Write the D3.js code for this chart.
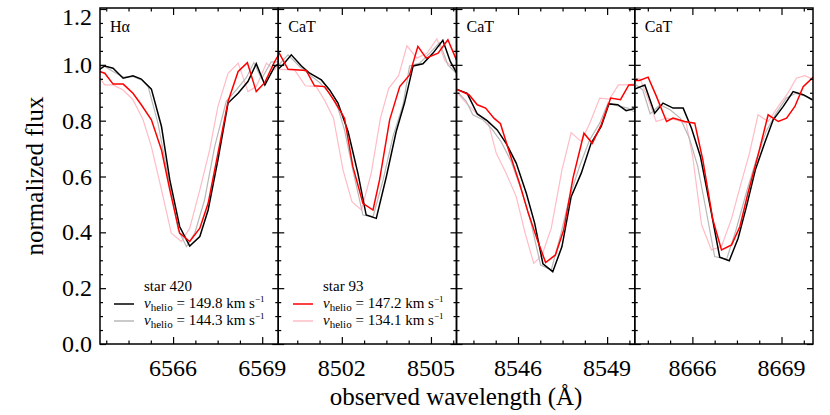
<!DOCTYPE html>
<html>
<head>
<meta charset="utf-8">
<script src="https://cdnjs.cloudflare.com/ajax/libs/d3/7.8.5/d3.min.js"></script>
<style>
body { margin: 0; background: #fff; }
svg, svg text { font-family: "Liberation Serif", "DejaVu Serif", serif; }
</style>
</head>
<body>
<svg id="chart" width="830" height="415"></svg>
<script>
// panel setup
var panelLabels = ["H\u03b1", "CaT", "CaT", "CaT"];
var xDomains = [[6563.54, 6569.54], [8499.86, 8505.86], [8543.93, 8549.93], [8664.06, 8670.06]];
var xMajorTicks = [[6566, 6569], [8502, 8505], [8546, 8549], [8666, 8669]];
var yTicks = [0, 0.2, 0.4, 0.6, 0.8, 1.0, 1.2];

// star 420, v = 149.8 (black) and 144.3 (gray); star 93, v = 147.2 (red) and 134.1 (pink)
var ha420a = [[6563.53,0.984],[6563.70,0.996],[6563.98,0.988],[6564.32,0.952],[6564.65,0.961],[6564.93,0.949],[6565.27,0.913],[6565.61,0.779],[6565.89,0.588],[6566.22,0.421],[6566.56,0.351],[6566.90,0.385],[6567.18,0.480],[6567.51,0.660],[6567.85,0.863],[6568.19,0.898],[6568.52,0.940],[6568.80,1.004],[6569.09,0.928],[6569.42,0.994],[6569.59,1.006]];
var ha420b = [[6563.53,0.996],[6563.70,0.994],[6563.98,0.976],[6564.32,0.956],[6564.65,0.958],[6564.93,0.946],[6565.16,0.922],[6565.49,0.791],[6565.83,0.600],[6566.17,0.409],[6566.45,0.349],[6566.73,0.397],[6567.06,0.516],[6567.40,0.707],[6567.79,0.869],[6568.13,0.910],[6568.47,0.955],[6568.72,1.008],[6568.98,0.950],[6569.30,1.010],[6569.59,1.012]];
var ha93a = [[6563.53,0.976],[6563.70,0.970],[6563.98,0.931],[6564.32,0.931],[6564.65,0.898],[6564.93,0.857],[6565.27,0.803],[6565.61,0.695],[6565.89,0.552],[6566.22,0.397],[6566.56,0.367],[6566.90,0.415],[6567.18,0.504],[6567.51,0.683],[6567.85,0.869],[6568.19,0.976],[6568.50,1.008],[6568.80,0.904],[6569.09,0.937],[6569.42,1.012],[6569.59,1.042]];
var ha93b = [[6563.53,0.952],[6563.70,0.928],[6563.98,0.928],[6564.32,0.910],[6564.65,0.875],[6564.99,0.803],[6565.27,0.707],[6565.61,0.552],[6565.94,0.397],[6566.28,0.367],[6566.56,0.415],[6566.90,0.552],[6567.23,0.695],[6567.51,0.851],[6567.85,0.970],[6568.19,1.006],[6568.52,0.904],[6568.80,0.922],[6569.14,1.006],[6569.42,0.982],[6569.59,1.012]];

var ca1420a = [[8499.86,0.985],[8500.02,1.000],[8500.30,1.036],[8500.64,0.996],[8500.92,0.970],[8501.31,0.946],[8501.59,0.910],[8501.87,0.863],[8502.21,0.761],[8502.54,0.612],[8502.82,0.462],[8503.16,0.450],[8503.50,0.600],[8503.83,0.761],[8504.11,0.863],[8504.40,0.996],[8504.73,1.004],[8505.07,1.042],[8505.40,1.088],[8505.65,1.012],[8505.90,0.964]];
var ca1420b = [[8499.86,0.998],[8500.19,1.036],[8500.58,0.994],[8500.92,0.964],[8501.25,0.937],[8501.59,0.898],[8501.87,0.845],[8502.09,0.767],[8502.37,0.624],[8502.71,0.462],[8503.05,0.456],[8503.39,0.588],[8503.72,0.743],[8504.06,0.857],[8504.28,0.996],[8504.62,1.006],[8504.96,1.042],[8505.29,1.080],[8505.57,1.000],[8505.91,0.964]];
var ca193a = [[8499.86,1.048],[8500.19,0.984],[8500.80,0.980],[8501.08,0.925],[8501.42,0.922],[8501.76,0.869],[8502.09,0.809],[8502.37,0.636],[8502.71,0.504],[8503.05,0.480],[8503.27,0.588],[8503.61,0.803],[8503.95,0.922],[8504.28,0.964],[8504.56,1.066],[8504.84,1.024],[8505.24,1.042],[8505.57,1.090],[8505.88,1.012]];
var ca193b = [[8499.86,0.984],[8500.41,0.982],[8500.77,0.925],[8501.14,0.922],[8501.44,0.869],[8501.72,0.809],[8502.04,0.624],[8502.34,0.510],[8502.66,0.480],[8502.99,0.612],[8503.30,0.809],[8503.58,0.916],[8503.91,0.961],[8504.19,1.068],[8504.53,1.024],[8504.87,1.042],[8505.20,1.093],[8505.48,1.012],[8505.86,0.985]];

var ca2420a = [[8543.92,0.913],[8544.29,0.898],[8544.63,0.824],[8544.96,0.800],[8545.30,0.767],[8545.60,0.719],[8545.94,0.648],[8546.28,0.540],[8546.56,0.433],[8546.84,0.287],[8547.17,0.259],[8547.48,0.349],[8547.79,0.528],[8548.13,0.612],[8548.46,0.719],[8548.80,0.779],[8549.06,0.860],[8549.36,0.857],[8549.64,0.836],[8549.98,0.845]];
var ca2420b = [[8543.92,0.908],[8544.26,0.869],[8544.48,0.821],[8544.82,0.803],[8545.10,0.773],[8545.43,0.725],[8545.77,0.654],[8546.11,0.552],[8546.44,0.433],[8546.76,0.283],[8547.12,0.265],[8547.45,0.397],[8547.74,0.528],[8548.07,0.636],[8548.41,0.731],[8548.75,0.791],[8549.03,0.863],[8549.36,0.853],[8549.70,0.845],[8549.98,0.827]];
var ca293a = [[8543.92,0.913],[8544.35,0.893],[8544.63,0.857],[8544.91,0.845],[8545.19,0.809],[8545.41,0.789],[8545.72,0.683],[8546.05,0.576],[8546.35,0.468],[8546.65,0.373],[8546.93,0.292],[8547.26,0.319],[8547.54,0.409],[8547.85,0.594],[8548.22,0.755],[8548.50,0.719],[8548.80,0.785],[8549.12,0.881],[8549.45,0.875],[8549.73,0.928],[8549.98,0.928]];
var ca293b = [[8543.92,0.904],[8544.26,0.863],[8544.59,0.827],[8544.99,0.797],[8545.27,0.683],[8545.60,0.612],[8545.94,0.528],[8546.24,0.397],[8546.53,0.289],[8546.81,0.319],[8547.12,0.415],[8547.48,0.624],[8547.79,0.757],[8548.13,0.725],[8548.44,0.797],[8548.75,0.881],[8549.08,0.877],[8549.38,0.928],[8549.70,0.928],[8549.98,0.934]];

var ca3420a = [[8664.05,0.913],[8664.40,0.928],[8664.73,0.827],[8665.01,0.863],[8665.35,0.845],[8665.69,0.845],[8665.97,0.773],[8666.27,0.672],[8666.60,0.492],[8666.92,0.311],[8667.24,0.298],[8667.54,0.379],[8667.82,0.492],[8668.12,0.624],[8668.43,0.719],[8668.72,0.803],[8669.06,0.851],[8669.39,0.904],[8669.73,0.893],[8670.04,0.875]];
var ca3420b = [[8664.05,0.932],[8664.33,0.910],[8664.58,0.824],[8664.91,0.857],[8665.25,0.839],[8665.59,0.809],[8665.90,0.737],[8666.18,0.636],[8666.46,0.480],[8666.75,0.313],[8667.15,0.303],[8667.47,0.409],[8667.81,0.540],[8668.15,0.660],[8668.48,0.761],[8668.82,0.827],[8669.16,0.881],[8669.49,0.898],[8669.83,0.887],[8670.11,0.869]];
var ca393a = [[8664.05,0.944],[8664.22,0.944],[8664.51,0.956],[8664.79,0.887],[8665.13,0.797],[8665.35,0.809],[8665.74,0.797],[8666.08,0.791],[8666.35,0.660],[8666.69,0.445],[8666.98,0.337],[8667.32,0.355],[8667.60,0.421],[8667.87,0.540],[8668.20,0.672],[8668.55,0.821],[8668.89,0.797],[8669.17,0.809],[8669.45,0.851],[8669.73,0.922],[8670.07,0.956]];
var ca393b = [[8664.05,0.952],[8664.24,0.949],[8664.50,0.881],[8664.78,0.797],[8665.12,0.809],[8665.45,0.803],[8665.79,0.791],[8666.01,0.672],[8666.31,0.427],[8666.64,0.337],[8666.98,0.349],[8667.32,0.450],[8667.64,0.576],[8667.92,0.683],[8668.21,0.821],[8668.55,0.797],[8668.89,0.851],[8669.21,0.898],[8669.50,0.952],[8669.78,0.961],[8670.11,0.946]];

var panelSeries = [
    [ha93b, ha420b, ha420a, ha93a],
    [ca193b, ca1420b, ca1420a, ca193a],
    [ca293b, ca2420b, ca2420a, ca293a],
    [ca393b, ca3420b, ca3420a, ca393a]
];
var seriesColors = ["#ffbcc6", "#b8b8b8", "#000000", "#ff0000"];
var seriesWidths = [1.2, 1.2, 1.5, 1.5];

var svg = d3.select("#chart");
var plotLeft = 100, plotTop = 8, plotBottom = 344;
var panelW = 178.25;

var y = d3.scaleLinear().domain([0, 1.2]).range([plotBottom, 9]);
var yMinor = d3.range(0, 1.2001, 0.05).filter(function (v) {
    return Math.abs(v * 5 - Math.round(v * 5)) > 1e-6;
});

panelSeries.forEach(function (series, i) {
    var x0 = plotLeft + i * panelW;
    var x = d3.scaleLinear().domain(xDomains[i]).range([x0, x0 + panelW]);
    var maj = xMajorTicks[i];
    var xMinor = [];
    for (var t = maj[0] - 0.75; t > xDomains[i][0]; t -= 0.75) xMinor.push(t);
    for (var t2 = maj[0] + 0.75; t2 < xDomains[i][1]; t2 += 0.75) {
        if (maj.indexOf(Math.round(t2 * 100) / 100) < 0) xMinor.push(t2);
    }

    var g = svg.append("g");

    g.append("clipPath").attr("id", "clip" + i)
        .append("rect")
        .attr("x", x0).attr("y", plotTop)
        .attr("width", panelW).attr("height", plotBottom - plotTop);

    var line = d3.line()
        .x(function (d) { return x(d[0]); })
        .y(function (d) { return y(d[1]); });

    var curves = g.append("g").attr("clip-path", "url(#clip" + i + ")");
    series.forEach(function (s, k) {
        curves.append("path")
            .attr("d", line(s))
            .attr("fill", "none")
            .attr("stroke", seriesColors[k])
            .attr("stroke-width", seriesWidths[k])
            .attr("stroke-linejoin", "miter");
    });

    // inward ticks on all four sides
    g.append("g").attr("transform", "translate(0," + plotBottom + ")")
        .call(d3.axisBottom(x).tickValues(maj).tickSize(-7).tickFormat(""));
    g.append("g").attr("transform", "translate(0," + plotBottom + ")")
        .call(d3.axisBottom(x).tickValues(xMinor).tickSize(-3.5).tickFormat(""));
    g.append("g").attr("transform", "translate(0," + plotTop + ")")
        .call(d3.axisTop(x).tickValues(maj).tickSize(-7).tickFormat(""));
    g.append("g").attr("transform", "translate(0," + plotTop + ")")
        .call(d3.axisTop(x).tickValues(xMinor).tickSize(-3.5).tickFormat(""));
    g.append("g").attr("transform", "translate(" + x0 + ",0)")
        .call(d3.axisLeft(y).tickValues(yTicks).tickSize(-6).tickFormat(""));
    g.append("g").attr("transform", "translate(" + x0 + ",0)")
        .call(d3.axisLeft(y).tickValues(yMinor).tickSize(-3).tickFormat(""));
    g.append("g").attr("transform", "translate(" + (x0 + panelW) + ",0)")
        .call(d3.axisRight(y).tickValues(yTicks).tickSize(-6).tickFormat(""));
    g.append("g").attr("transform", "translate(" + (x0 + panelW) + ",0)")
        .call(d3.axisRight(y).tickValues(yMinor).tickSize(-3).tickFormat(""));

    g.selectAll(".domain").remove();
    g.selectAll(".tick text").remove();
    g.selectAll(".tick line").attr("stroke", "#000").attr("stroke-width", 1.2);

    // tick labels as plain text so the serif face is used
    g.selectAll("text.xlab").data(maj).enter().append("text")
        .attr("class", "xlab")
        .attr("x", function (d) { return x(d); })
        .attr("y", 376)
        .attr("text-anchor", "middle")
        .style("font-size", "24px")
        .text(function (d) { return d; });
    if (i === 0) {
        g.selectAll("text.ylab").data(yTicks).enter().append("text")
            .attr("class", "ylab")
            .attr("x", x0 - 8)
            .attr("y", function (d) { return Math.max(y(d), 17); })
            .attr("dy", "0.34em")
            .attr("text-anchor", "end")
            .style("font-size", "24px")
            .text(function (d) { return d3.format(".1f")(d); });
    }

    g.append("rect")
        .attr("x", x0).attr("y", plotTop)
        .attr("width", panelW).attr("height", plotBottom - plotTop)
        .attr("fill", "none").attr("stroke", "#000").attr("stroke-width", 1.5);

    g.append("text")
        .attr("x", x0 + 10).attr("y", 32)
        .style("font-size", "16px")
        .text(panelLabels[i]);
});

// legends
function legendBlock(x, yTop, star, rows) {
    var lg = svg.append("g").style("font-size", "15px");
    lg.append("text").attr("x", x + 30).attr("y", yTop).text(star);
    rows.forEach(function (r, k) {
        var yy = yTop + 17 * (k + 1);
        lg.append("line")
            .attr("x1", x).attr("x2", x + 20)
            .attr("y1", yy - 4).attr("y2", yy - 4)
            .attr("stroke", r.color).attr("stroke-width", 1.5);
        var t = lg.append("text").attr("x", x + 30).attr("y", yy).style("white-space", "pre");
        t.append("tspan").style("font-style", "italic").text("v");
        t.append("tspan").attr("dy", 3).style("font-size", "11px").text("helio");
        t.append("tspan").attr("dy", -3).text(" = " + r.v + " km s");
        t.append("tspan").attr("dy", -6).style("font-size", "9px").text("\u22121");
    });
}
legendBlock(114, 291, "star 420", [{color: "#000000", v: "149.8"}, {color: "#b8b8b8", v: "144.3"}]);
legendBlock(293, 291, "star 93", [{color: "#ff0000", v: "147.2"}, {color: "#ffbcc6", v: "134.1"}]);

// axis titles
svg.append("text")
    .attr("x", 456).attr("y", 405)
    .attr("text-anchor", "middle")
    .style("font-size", "25px")
    .text("observed wavelength (\u00c5)");
svg.append("text")
    .attr("transform", "translate(43,176) rotate(-90)")
    .attr("text-anchor", "middle")
    .style("font-size", "25px")
    .text("normalized flux");
</script>
</body>
</html>
